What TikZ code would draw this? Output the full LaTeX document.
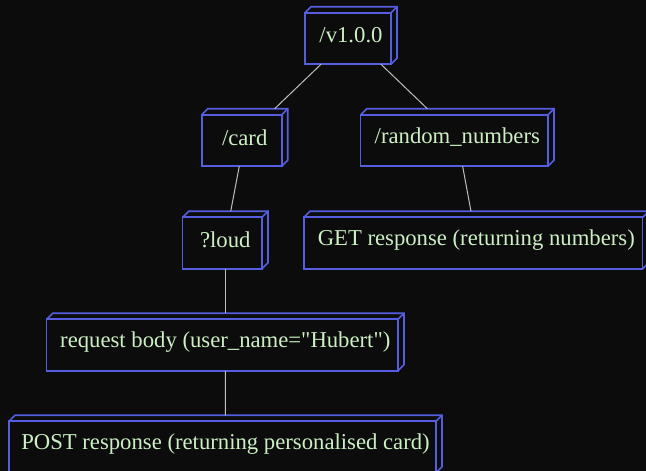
\documentclass[tikz,border=0pt]{standalone}
\usepackage{fontspec}
\setmainfont{Liberation Serif}
\definecolor{bgc}{RGB}{12,12,12}
\definecolor{boxc}{RGB}{84,94,222}
\definecolor{txtc}{RGB}{204,240,196}
\definecolor{linec}{RGB}{190,190,190}
\begin{document}
\begin{tikzpicture}[x=1pt,y=-1pt,
  cubenode/.style={draw=none,inner sep=0pt,outer sep=0pt,minimum height=57.5pt,
    text=txtc,font=\fontsize{22.7}{27}\selectfont},
  boxline/.style={draw=boxc,line width=1.6pt,line join=miter},
  conn/.style={draw=linec,line width=1pt}]
\fill[bgc] (0,0) rectangle (646,471);
\useasboundingbox (0,0) rectangle (646,471);
\node[cubenode,minimum width=92pt] (v) at (351,35.5) {/v1.0.0};
\node[cubenode,minimum width=86pt] (card) at (244.7,137.5) {/card};
\node[cubenode,minimum width=193.3pt] (rand) at (457.3,137.5) {/random\_numbers};
\node[cubenode,minimum width=85.3pt] (loud) at (225.3,240) {?loud};
\node[cubenode,minimum width=344.7pt] (get) at (476.3,240) {GET response (returning numbers)};
\node[cubenode,minimum width=357.3pt] (req) at (225.3,342) {request body (user\_name=\textquotedbl Hubert\textquotedbl)};
\node[cubenode,minimum width=433pt] (post) at (225.5,444) {POST response (returning personalised card)};
\foreach \n in {v,card,rand,loud,get,req,post}{
  \draw[boxline] (\n.south west) rectangle ([shift={(-6pt,-6pt)}]\n.north east);
  \draw[boxline] ([yshift=-6pt]\n.north west) -- ([xshift=6pt]\n.north west) -- (\n.north east) -- ([yshift=6pt]\n.south east) -- ([xshift=-6pt]\n.south east);
  \draw[boxline] ([shift={(-6pt,-6pt)}]\n.north east) -- (\n.north east);
}
\draw[conn] (v) -- (card);
\draw[conn] (v) -- (rand);
\draw[conn] (card) -- (loud);
\draw[conn] (rand) -- (get);
\draw[conn] (loud) -- (req);
\draw[conn] (req) -- (post);
\end{tikzpicture}
\end{document}
